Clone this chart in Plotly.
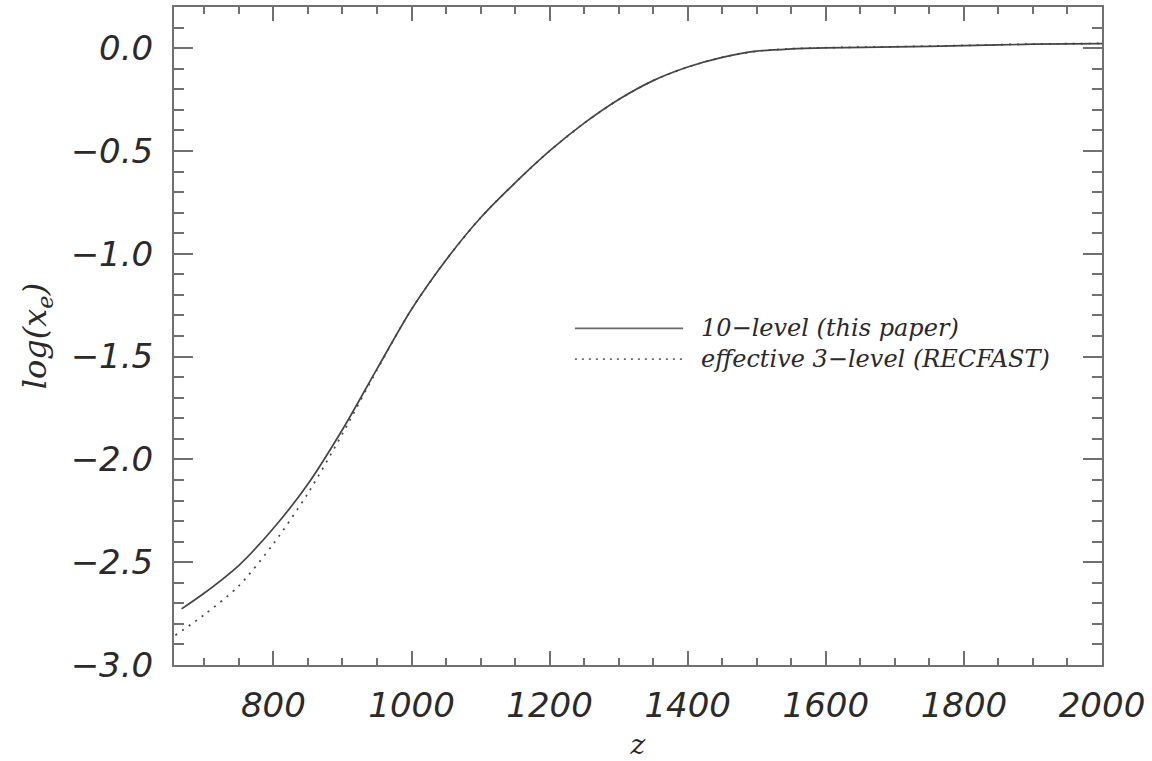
import plotly.graph_objects as go

# ---- data ----
z_10level = [667, 700, 750, 800, 850, 900, 950, 1000, 1050, 1100, 1150, 1200, 1250,
             1300, 1350, 1400, 1450, 1500, 1550, 1600, 1700, 1800, 1900, 2000]
logxe_10level = [-2.727, -2.650, -2.515, -2.335, -2.120, -1.855, -1.560, -1.270, -1.030,
                 -0.825, -0.655, -0.500, -0.365, -0.250, -0.158, -0.092, -0.045, -0.015,
                 -0.004, 0.001, 0.006, 0.012, 0.019, 0.022]

z_recfast = [658, 700, 750, 800, 850, 900, 950, 1000, 1050, 1100, 1150, 1200, 1250,
             1300, 1350, 1400, 1450, 1500, 1550, 1600, 1700, 1800, 1900, 2000]
logxe_recfast = [-2.855, -2.755, -2.615, -2.410, -2.165, -1.875, -1.565, -1.270, -1.030,
                 -0.825, -0.655, -0.500, -0.365, -0.250, -0.158, -0.092, -0.045, -0.015,
                 -0.003, 0.002, 0.007, 0.013, 0.020, 0.023]

legend_labels = ["10\u2212level (this paper)", "effective 3\u2212level (RECFAST)"]
x_ticks = [800, 1000, 1200, 1400, 1600, 1800, 2000]
y_ticks = [0.0, -0.5, -1.0, -1.5, -2.0, -2.5, -3.0]

LINE = "#454545"
AXIS = "#707070"
TXT = "#2a2a2a"

fig = go.Figure()
fig.add_trace(go.Scatter(x=z_10level, y=logxe_10level, mode="lines",
                         line=dict(color=LINE, width=1.7, shape="spline", smoothing=0.8),
                         name=legend_labels[0], showlegend=False))
fig.add_trace(go.Scatter(x=z_recfast, y=logxe_recfast, mode="lines",
                         line=dict(color=LINE, width=1.7, shape="spline", smoothing=0.8, dash="2px,6px"),
                         name=legend_labels[1], showlegend=False))

# manual legend (IDL style): one text block, two sample lines
LEG_SIZE = 24
fig.add_annotation(xref="paper", yref="paper", x=0.567, y=0.4882,
                   text="<br>".join(legend_labels), showarrow=False,
                   xanchor="left", yanchor="middle", align="left", borderpad=0,
                   font=dict(family="DejaVu Serif", size=LEG_SIZE, color=TXT, style="italic"))
leg_rows = [0.5115, 0.4650]
dashes = [None, "2px,5px"]
for yy, d in zip(leg_rows, dashes):
    ln = dict(color="#6a6a6a", width=1.7)
    if d:
        ln["dash"] = d
    fig.add_shape(type="line", xref="paper", yref="paper", x0=0.432, x1=0.5485,
                  y0=yy, y1=yy, line=ln)

tickfont = dict(family="DejaVu Sans", size=34, color=TXT, style="italic")
fig.update_xaxes(range=[656, 2000], tickmode="array", tickvals=x_ticks,
                 ticktext=[str(v) for v in x_ticks], tickfont=tickfont,
                 ticks="inside", ticklen=14, tickwidth=2, tickcolor=AXIS,
                 minor=dict(dtick=50, ticks="inside", ticklen=7, tickwidth=2, tickcolor=AXIS, showgrid=False),
                 showline=True, linecolor=AXIS, linewidth=2, mirror="allticks",
                 showgrid=False, zeroline=False, ticklabelstandoff=9, automargin=False,
                 title=dict(text="z", standoff=12,
                            font=dict(family="DejaVu Serif", size=28, color=TXT, style="italic")))
fig.update_yaxes(range=[-3.0, 0.2], tickmode="array", tickvals=y_ticks,
                 ticktext=[("\u2212" if v < 0 else "") + f"{abs(v):.1f}" for v in y_ticks],
                 tickfont=tickfont,
                 ticks="inside", ticklen=19, tickwidth=2, tickcolor=AXIS,
                 minor=dict(dtick=0.1, tick0=0, ticks="inside", ticklen=10, tickwidth=2, tickcolor=AXIS, showgrid=False),
                 showline=True, linecolor=AXIS, linewidth=2, mirror="allticks",
                 showgrid=False, zeroline=False, ticklabelstandoff=12, automargin=False,
                 title=dict(text="log(x<sub>e</sub>)", standoff=14,
                            font=dict(family="DejaVu Serif", size=32, color=TXT, style="italic")))
fig.update_layout(width=1152, height=761, margin=dict(l=174, r=50, t=7, b=95.5, autoexpand=False),
                  plot_bgcolor="white", paper_bgcolor="white", showlegend=False)
fig.write_html("out.html", config={"displayModeBar": False},
               post_script="document.body.style.margin='0';")
